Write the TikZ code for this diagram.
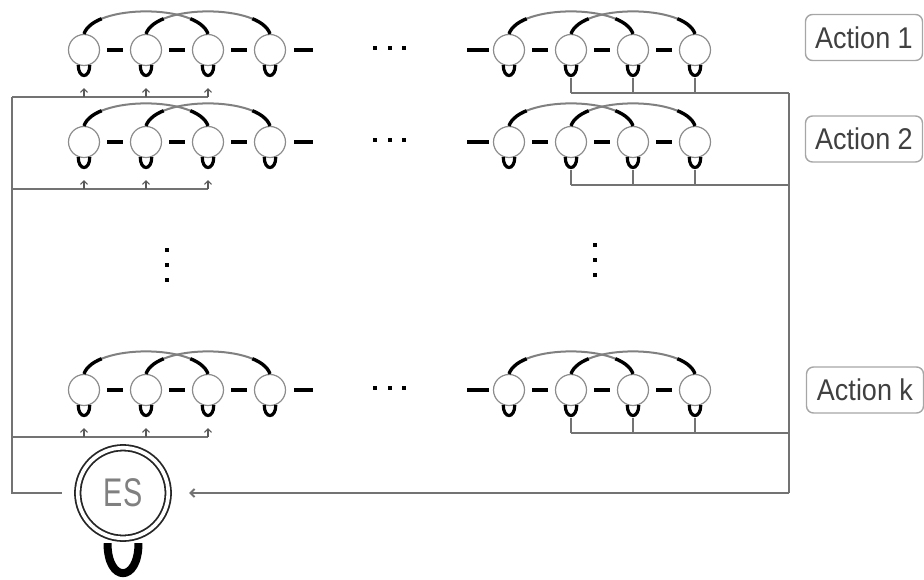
\documentclass[tikz,border=0pt]{standalone}
\usepackage{fontspec}
\setmainfont{Liberation Sans}
\usetikzlibrary{arrows.meta,calc}
\begin{document}
\begin{tikzpicture}[x=1pt,y=-1pt,
  state/.style={circle,draw=black!45,line width=1.2pt,minimum size=31pt,inner sep=0pt},
  link/.style={line width=3.5pt,black},
  arcg/.style={line width=2pt,black!50},
  arcend/.style={line width=3.4pt,black,dash pattern=on 24pt off 400pt},
  selfloop/.style={line width=3.2pt,black},
  feed/.style={line width=2pt,black!55},
  inarrow/.style={line width=1.1pt,black!65,-{Straight Barb[length=3.5pt,width=7pt]}},
  dotbox/.style={fill=black,minimum size=4pt,inner sep=0pt},
  actbox/.style={draw=black!35,line width=1.4pt,rounded corners=7pt,minimum width=117pt,minimum height=46pt,text=black!75,font=\fontsize{30}{30}\selectfont},
]
\useasboundingbox (0,0) rectangle (924,579);

\foreach \rw/\y in {1/50, 2/142, k/390} {
  \foreach \i/\x in {1/84,2/146,3/208,4/270} \node[state] (r\rw l\i) at (\x,\y) {};
  \foreach \i/\x in {1/509,2/571,3/633,4/695} \node[state] (r\rw r\i) at (\x,\y) {};
  % horizontal links, self loops, skip arcs
  \foreach \s in {l,r} {
    \foreach \ia/\ib in {1/2,2/3,3/4}
      \draw[link,shorten <=7pt,shorten >=7pt] (r\rw\s\ia) -- (r\rw\s\ib);
    \foreach \i in {1,2,3,4}
      \draw[selfloop] (r\rw\s\i.-111) .. controls +(0,14) and +(0,14) .. (r\rw\s\i.-69);
    \foreach \ia/\ib in {1/3,2/4} {
      \draw[arcg] (r\rw\s\ia.north) .. controls +(10,-30) and +(-10,-30) .. (r\rw\s\ib.north);
      \draw[arcend] (r\rw\s\ia.north) .. controls +(10,-30) and +(-10,-30) .. (r\rw\s\ib.north);
      \draw[arcend] (r\rw\s\ib.north) .. controls +(-10,-30) and +(10,-30) .. (r\rw\s\ia.north);
    }
  }
  \draw[link] ($(r\rw l4.east)+(8,0)$) -- ++(19,0);
  \draw[link] ($(r\rw r1.west)+(-4,0)$) -- ++(-22,0);
  % ellipsis
  \foreach \j/\dx in {1/375,2/390,3/404} \node[dotbox] (h\rw\j) at (\dx,\y-2) {};
  % feed lines
  \coordinate (ll\rw) at (12,\y+47);
  \coordinate (lr\rw) at (208,\y+47);
  \coordinate (rl\rw) at (571,\y+43);
  \coordinate (rr\rw) at (789,\y+43);
  \draw[feed] (ll\rw) -- (lr\rw);
  \foreach \i in {1,2,3} \draw[inarrow,shorten >=22pt] (ll\rw-|r\rw l\i) -- (r\rw l\i);
  \foreach \i in {2,3,4} \draw[feed,shorten <=12pt] (r\rw r\i) -- (r\rw r\i|-rl\rw);
  \draw[feed] (rl\rw) -- (rr\rw);
}

% vertical ellipses
\foreach \j/\dy in {1/250,2/265,3/280} \node[dotbox] (vl\j) at (167,\dy) {};
\foreach \j/\dy in {1/245,2/260,3/275} \node[dotbox] (vr\j) at (595,\dy) {};

% ES node
\node[circle,draw=black!85,line width=1.8pt,double=white,double distance=3.7pt,
      minimum size=90.5pt,inner sep=0pt,text=black!50] (es) at (123,493)
      {\scalebox{0.72}[1]{\fontsize{40}{40}\selectfont ES}};
\draw[line width=8pt,black] ($(es.south)+(-15.5,4)$) .. controls +(0,40) and +(0,40) .. ($(es.south)+(15.5,4)$);

\coordinate (lcorner) at (12,493);
\coordinate (rcorner) at (789,493);
\draw[feed,shorten <=15pt] (es) -- (lcorner) -- (ll1);
\draw[feed] (rr1) -- (rcorner);
\draw[feed,-{Straight Barb[length=4pt,width=8pt]},shorten >=20pt] (rcorner) -- (es);

% action labels
\node[actbox] (act1) at (864,37.5) {\scalebox{0.9}[1]{Action 1}};
\node[actbox] (act2) at (864,139) {\scalebox{0.9}[1]{Action 2}};
\node[actbox] (actk) at (865,390) {\scalebox{0.9}[1]{Action k}};
\end{tikzpicture}
\end{document}
